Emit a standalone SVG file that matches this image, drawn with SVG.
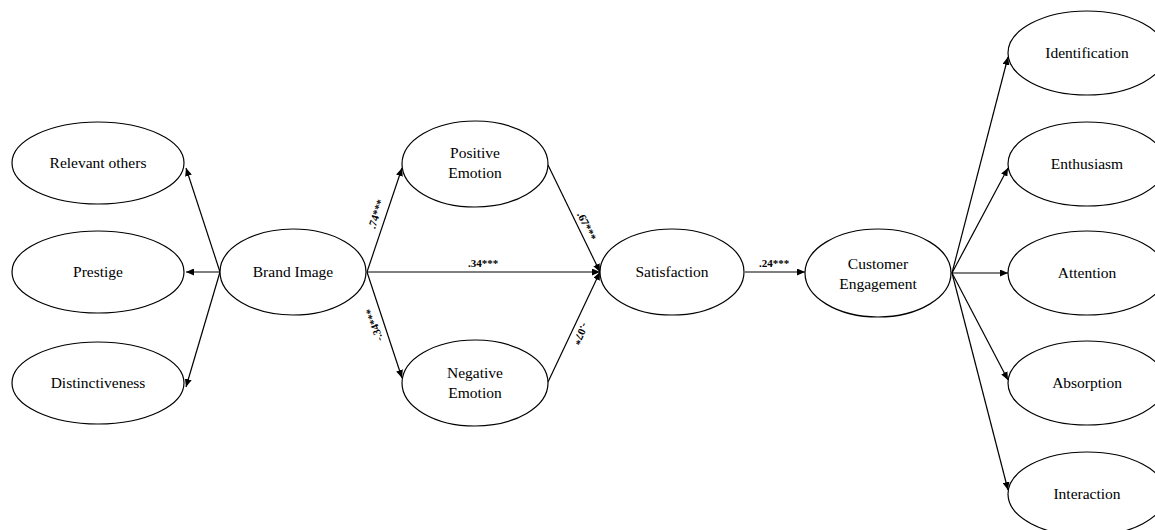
<svg xmlns="http://www.w3.org/2000/svg" width="1155" height="530" viewBox="0 0 1155 530">
<style>
.n{fill:#fff;stroke:#000;stroke-width:1.2}
.t{font-family:"Liberation Serif","Times New Roman",serif;font-size:15.5px;fill:#000;text-anchor:middle}
.c{stroke:#000;stroke-width:1.2;fill:none;marker-end:url(#ah)}
.l{font-family:"Liberation Serif","Times New Roman",serif;font-size:11px;font-weight:bold;fill:#000;text-anchor:middle}
</style>
<defs>
<marker id="ah" markerUnits="userSpaceOnUse" markerWidth="9" markerHeight="7" refX="8" refY="3.5" orient="auto">
<path d="M0,0 L8,3.5 L0,7 z" fill="#000"/>
</marker>
</defs>
<rect width="1155" height="530" fill="#fff"/>
<g id="connectors">
<line class="c" x1="220" y1="272" x2="186" y2="168"/>
<line class="c" x1="220" y1="272" x2="186" y2="272"/>
<line class="c" x1="220" y1="272" x2="186" y2="387"/>
<line class="c" x1="367" y1="272" x2="402" y2="168"/>
<line class="c" x1="367" y1="272" x2="402" y2="378"/>
<line class="c" x1="367" y1="272" x2="600" y2="272"/>
<line class="c" x1="548" y1="165" x2="600" y2="272"/>
<line class="c" x1="548" y1="382" x2="600" y2="272"/>
<line class="c" x1="745" y1="272" x2="805" y2="272"/>
<line class="c" x1="952" y1="273" x2="1008" y2="57"/>
<line class="c" x1="952" y1="273" x2="1008" y2="168"/>
<line class="c" x1="952" y1="273" x2="1008" y2="273"/>
<line class="c" x1="952" y1="273" x2="1008" y2="380"/>
<line class="c" x1="952" y1="273" x2="1008" y2="490"/>
<text class="l" transform="translate(376,214) rotate(-71.4)" y="4">.74***</text>
<text class="l" transform="translate(374,325) rotate(-108)" y="4">-.34***</text>
<text class="l" transform="translate(587,226) rotate(64)" y="4">.67***</text>
<text class="l" transform="translate(581,334) rotate(115)" y="4">-.07*</text>
<text class="l" x="483" y="267">.34***</text>
<text class="l" x="774" y="267">.24***</text>
</g>
<g id="relevant-others"><ellipse class="n" cx="98" cy="163" rx="86" ry="41"/><text class="t" x="98" y="168">Relevant others</text></g>
<g id="prestige"><ellipse class="n" cx="98" cy="272" rx="86" ry="41"/><text class="t" x="98" y="277">Prestige</text></g>
<g id="distinctiveness"><ellipse class="n" cx="98" cy="383" rx="86" ry="41"/><text class="t" x="98" y="388">Distinctiveness</text></g>
<g id="brand-image"><ellipse class="n" cx="293" cy="272" rx="73" ry="43"/><text class="t" x="293" y="277">Brand Image</text></g>
<g id="positive-emotion"><ellipse class="n" cx="475" cy="164" rx="73" ry="43"/><text class="t" x="475" y="158">Positive</text><text class="t" x="475" y="178">Emotion</text></g>
<g id="negative-emotion"><ellipse class="n" cx="475" cy="383" rx="73" ry="43"/><text class="t" x="475" y="378">Negative</text><text class="t" x="475" y="398">Emotion</text></g>
<g id="satisfaction"><ellipse class="n" cx="672" cy="272" rx="72" ry="43"/><text class="t" x="672" y="277">Satisfaction</text></g>
<g id="customer-engagement"><ellipse class="n" cx="878" cy="273" rx="73" ry="44"/><text class="t" x="878" y="269">Customer</text><text class="t" x="878" y="289">Engagement</text></g>
<g id="identification"><ellipse class="n" cx="1087" cy="53" rx="79" ry="42"/><text class="t" x="1087" y="58">Identification</text></g>
<g id="enthusiasm"><ellipse class="n" cx="1087" cy="164" rx="79" ry="42"/><text class="t" x="1087" y="169">Enthusiasm</text></g>
<g id="attention"><ellipse class="n" cx="1087" cy="273" rx="79" ry="42"/><text class="t" x="1087" y="278">Attention</text></g>
<g id="absorption"><ellipse class="n" cx="1087" cy="383" rx="79" ry="42"/><text class="t" x="1087" y="388">Absorption</text></g>
<g id="interaction"><ellipse class="n" cx="1087" cy="494" rx="79" ry="42"/><text class="t" x="1087" y="499">Interaction</text></g>
</svg>
